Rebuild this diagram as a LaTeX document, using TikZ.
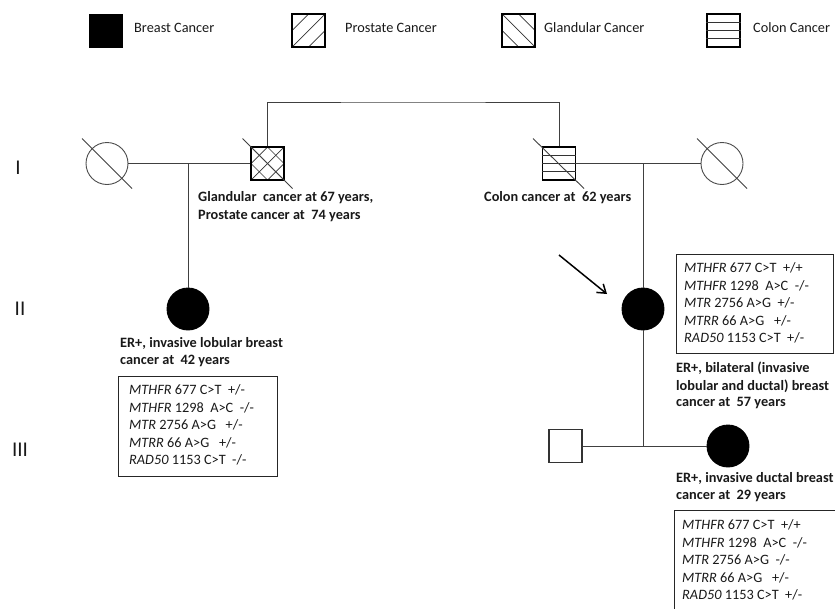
\documentclass[tikz,border=0pt]{standalone}
\usepackage{fontspec}
\setmainfont{Carlito}
\usetikzlibrary{arrows.meta}
\begin{document}
\begin{tikzpicture}[x=1pt,y=-1pt,
  every node/.style={font=\fontsize{14.3}{17.5}\selectfont},
  fem/.style={circle,draw=black!70,line width=0.9pt,minimum size=42pt,inner sep=0pt},
  affem/.style={circle,draw=black,fill=black,line width=0.9pt,minimum size=42pt,inner sep=0pt},
  male/.style={rectangle,draw=black,line width=1.2pt,minimum size=33pt,inner sep=0pt},
  legbox/.style={rectangle,draw=black,line width=1.2pt,minimum size=33pt,inner sep=0pt},
  link/.style={draw=black!75,line width=1pt},
  hatch/.style={draw=black!80,line width=0.7pt},
  dead/.style={draw=black!75,line width=0.9pt},
  txt/.style={anchor=west,inner sep=0pt,text=black!90},
  btxt/.style={anchor=west,inner sep=0pt,text=black!90,font=\fontsize{14.3}{17.5}\selectfont\bfseries},
  gbox/.style={rectangle,draw=black!85,line width=1pt,inner sep=0pt},
  gen/.style={inner sep=0pt,font=\fontsize{21}{24}\selectfont,text=black!90}
]
\useasboundingbox (0,0) rectangle (835,608);
\clip (0,0) rectangle (835,608);

% ---------------- legend ----------------
\node[legbox,fill=black] (lgb) at (106,31) {};
\node[txt] (lgbt) at (134,28) {Breast Cancer};
\node[legbox] (lgp) at (308.5,30.5) {};
\begin{scope}
  \clip (lgp.south west) rectangle (lgp.north east);
  \foreach \d in {-16.5,0,16.5}
    \draw[hatch] ([shift={(-30,30+\d)}]lgp.center) -- ([shift={(30,-30+\d)}]lgp.center);
\end{scope}
\node[legbox] at (308.5,30.5) {};
\node[txt] (lgpt) at (345,28) {Prostate Cancer};
\node[legbox] (lgg) at (518.5,30.5) {};
\begin{scope}
  \clip (lgg.south west) rectangle (lgg.north east);
  \foreach \d in {-16.5,0,16.5}
    \draw[hatch] ([shift={(-30,-30+\d)}]lgg.center) -- ([shift={(30,30+\d)}]lgg.center);
\end{scope}
\node[legbox] at (518.5,30.5) {};
\node[txt] (lggt) at (544,28) {Glandular Cancer};
\node[legbox] (lgc) at (723.5,30.5) {};
\foreach \d in {-8.25,0,8.25}
  \draw[hatch,line width=0.9pt] ([shift={(0,\d)}]lgc.west) -- ([shift={(0,\d)}]lgc.east);
\node[txt] (lgct) at (753,28) {Colon Cancer};

% ---------------- generation labels ----------------
\node[gen] (g1) at (18,168) {I};
\node[gen] (g2) at (20,309) {II};
\node[gen] (g3) at (20,450) {III};

% ---------------- generation I ----------------
\node[fem] (lw) at (107,163.5) {};
\node[male] (gsq) at (267.5,163.5) {};
\begin{scope}
  \clip (gsq.south west) rectangle (gsq.north east);
  \foreach \d in {-16.5,0,16.5}{
    \draw[hatch] ([shift={(-30,30+\d)}]gsq.center) -- ([shift={(30,-30+\d)}]gsq.center);
    \draw[hatch] ([shift={(-30,-30+\d)}]gsq.center) -- ([shift={(30,30+\d)}]gsq.center);}
\end{scope}
\node[male] at (267.5,163.5) {};
\node[male] (csq) at (559,163.5) {};
\foreach \d in {-8.25,0,8.25}
  \draw[hatch,line width=0.9pt] ([shift={(0,\d)}]csq.west) -- ([shift={(0,\d)}]csq.east);
\node[fem] (rw) at (722,163.5) {};

% deceased slashes
\draw[dead] ([shift={(-25,-25)}]lw.center) -- ([shift={(25,25)}]lw.center);
\draw[dead] ([shift={(-25,-25)}]gsq.center) -- ([shift={(25,25)}]gsq.center);
\draw[dead] ([shift={(-26,-25)}]csq.center) -- ([shift={(25,25)}]csq.center);
\draw[dead] ([shift={(-25,-25)}]rw.center) -- ([shift={(25,25)}]rw.center);

% sibship line
\coordinate (topm) at (413,102);
\draw[link] (gsq.north) |- (topm) -| (csq.north);

% couple lines
\draw[link] (lw) -- (gsq);
\draw[link] (csq) -- (rw);

\node[btxt] (t1a) at (198,198) {Glandular\ \ cancer at 67 years,};
\node[btxt] (t1b) at (198,216) {Prostate cancer at\ \ 74 years};
\node[btxt] (t2) at (484,198) {Colon cancer at\ \ 62 years};

% ---------------- generation II ----------------
\node[affem] (lc) at (188,309) {};
\node[affem] (pro) at (643,309) {};
\coordinate (lm) at (lc |- gsq);
\coordinate (rm) at (pro |- csq);
\draw[link] (lm) -- (lc);
\draw[link] (rm) -- (pro);

\coordinate (as) at (559,255);
\coordinate (ae) at (607,294);
\draw[line width=1.5pt,-{Straight Barb[length=8pt,width=11pt]}] (as) -- (ae);

\node[btxt] (t3a) at (120,343) {ER+, invasive\ lobular breast};
\node[btxt] (t3b) at (120,361) {cancer at\ \ 42 years};

\node[gbox,minimum width=159pt,minimum height=100pt] (b1) at (197.5,426) {};
\node[txt] (b1a) at (129,390) {\textit{MTHFR} 677 C>T\ \ +/-};
\node[txt] (b1b) at (129,407.5) {\textit{MTHFR} 1298\ \ A>C\ \ -/-};
\node[txt] (b1c) at (129,425) {\textit{MTR} 2756 A>G\ \ \ +/-};
\node[txt] (b1d) at (129,442.5) {\textit{MTRR} 66 A>G\ \ \ +/-};
\node[txt] (b1e) at (129,460) {\textit{RAD50} 1153 C>T\ \ -/-};

\node[gbox,minimum width=157pt,minimum height=99pt] (b2) at (754.5,303.5) {};
\node[txt] (b2a) at (684,268) {\textit{MTHFR} 677 C>T\ \ +/+};
\node[txt] (b2b) at (684,285.5) {\textit{MTHFR} 1298\ \ A>C\ \ -/-};
\node[txt] (b2c) at (684,303) {\textit{MTR} 2756 A>G\ \ +/-};
\node[txt] (b2d) at (684,320.5) {\textit{MTRR} 66 A>G\ \ \ +/-};
\node[txt] (b2e) at (684,338) {\textit{RAD50} 1153 C>T\ \ +/-};

\node[btxt] (t4a) at (676,368) {ER+, bilateral (invasive};
\node[btxt] (t4b) at (676,386) {lobular and ductal) breast};
\node[btxt] (t4c) at (676,403) {cancer at\ \ 57 years};

% ---------------- generation III ----------------
\node[male,draw=black!80] (hsq) at (565.5,446) {};
\node[affem] (dau) at (728,446) {};
\coordinate (m3) at (pro |- hsq);
\draw[link] (pro) -- (m3);
\draw[link] (hsq) -- (dau);

\node[btxt] (t5a) at (676,478) {ER+, invasive\ ductal breast};
\node[btxt] (t5b) at (676,496) {cancer at\ \ 29 years};

\node[gbox,minimum width=176pt,minimum height=115pt] (b3) at (762,567.5) {};
\node[txt] (b3a) at (682,525) {\textit{MTHFR} 677 C>T\ \ +/+};
\node[txt] (b3b) at (682,542.5) {\textit{MTHFR} 1298\ \ A>C\ \ -/-};
\node[txt] (b3c) at (682,560) {\textit{MTR} 2756 A>G\ \ -/-};
\node[txt] (b3d) at (682,577.5) {\textit{MTRR} 66 A>G\ \ \ +/-};
\node[txt] (b3e) at (682,595) {\textit{RAD50} 1153 C>T\ \ +/-};
\end{tikzpicture}
\end{document}
